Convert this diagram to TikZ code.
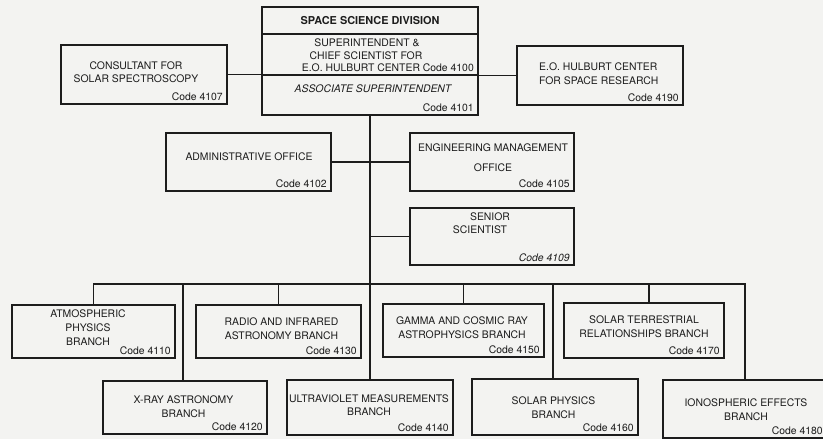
\documentclass[tikz,border=0pt]{standalone}
\usepackage{fontspec}
\setmainfont{TeX Gyre Heros}
\definecolor{bgc}{RGB}{243,243,241}
\definecolor{ink}{RGB}{28,28,28}
\tikzset{
  bx/.style={draw=ink, line width=1.9pt, inner sep=0pt},
  ln/.style={draw=ink, line width=1.9pt},
  lbl/.style={text=ink, font=\fontsize{10.4}{13.5}\selectfont, align=center, inner sep=0pt},
  codetxt/.style={text=ink, font=\fontsize{10.4}{12}\selectfont, inner xsep=5pt, inner ysep=4pt, anchor=south east},
}
\begin{document}
\begin{tikzpicture}[x=1pt,y=-1pt]
\clip (0,0) rectangle (823,439);
\fill[bgc] (0,0) rectangle (823,439);

% boxes
\node[bx, minimum width=216pt, minimum height=108pt] (main) at (370,61) {};
\node[bx, minimum width=166pt, minimum height=59pt] (consultant) at (144,74.5) {};
\node[bx, minimum width=166pt, minimum height=59pt] (hulburt) at (600,75.5) {};
\node[bx, minimum width=165pt, minimum height=58pt] (admin) at (248.5,162) {};
\node[bx, minimum width=164pt, minimum height=58pt] (eng) at (492,162) {};
\node[bx, minimum width=164pt, minimum height=57pt] (senior) at (492,236.5) {};
\node[bx, minimum width=163pt, minimum height=53pt] (atmos) at (93.5,331.5) {};
\node[bx, minimum width=165pt, minimum height=53pt] (radio) at (278.5,331.5) {};
\node[bx, minimum width=161pt, minimum height=53pt] (gamma) at (463.5,330.5) {};
\node[bx, minimum width=160pt, minimum height=55pt] (solarterr) at (644,330.5) {};
\node[bx, minimum width=164pt, minimum height=53pt] (xray) at (185,407.5) {};
\node[bx, minimum width=166pt, minimum height=55pt] (uv) at (370,407.5) {};
\node[bx, minimum width=166pt, minimum height=56pt] (solarphys) at (555,407) {};
\node[bx, minimum width=164pt, minimum height=58pt] (iono) at (745,409) {};

% separators in main box
\draw[ln] ([yshift=-28pt]main.north west) -- ([yshift=-28pt]main.north east);
\draw[ln] ([yshift=-69pt]main.north west) -- ([yshift=-69pt]main.north east);

% connectors
\draw[ln] (consultant.east) -- (consultant.east -| main.west);
\draw[ln] (hulburt.west) -- (hulburt.west -| main.east);
\draw[ln] (main.south) -- (uv.north);
\draw[ln] (admin.east) -- (eng.west);
\draw[ln] (senior.west) -- (senior.west -| main.south);
\coordinate (busR) at (745,284);
\draw[ln] (atmos.north) |- (busR) -- (iono.north);
\draw[ln] (radio.north) -- (radio.north |- busR);
\draw[ln] (gamma.north) -- (gamma.north |- busR);
\draw[ln] ([xshift=5pt]solarterr.north) -- ([xshift=5pt]solarterr.north |- busR);
\draw[ln] ([xshift=-2pt]xray.north) -- ([xshift=-2pt]xray.north |- busR);
\draw[ln] ([xshift=-2pt]solarphys.north) -- ([xshift=-2pt]solarphys.north |- busR);

% texts: main box
\node[lbl, font=\fontsize{10.9}{13}\selectfont\bfseries] (t0) at (370,21) {SPACE SCIENCE DIVISION};
\node[lbl] (t1) at (367,43) {SUPERINTENDENT \&};
\node[lbl] (t2) at (366,55.5) {CHIEF SCIENTIST FOR};
\node[lbl, anchor=east] (t3) at (474,68) {E.O. HULBURT CENTER Code 4100};
\node[lbl, font=\fontsize{10.4}{13.5}\selectfont\itshape] (t4) at (373,89) {ASSOCIATE SUPERINTENDENT};
\node[codetxt] (c4101) at (main.south east) {Code 4101};

\node[lbl] (t5) at (136,72) {CONSULTANT FOR\\SOLAR SPECTROSCOPY};
\node[codetxt] (c4107) at (consultant.south east) {Code 4107};

\node[lbl, align=left, anchor=west] (t6) at (539,73.5) {E.O. HULBURT CENTER\\FOR SPACE RESEARCH};
\node[codetxt] (c4190) at (hulburt.south east) {Code 4190};

\node[lbl] (t7) at (249,157) {ADMINISTRATIVE OFFICE};
\node[codetxt] (c4102) at (admin.south east) {Code 4102};

\node[lbl] (t8) at (493,157.5) {ENGINEERING MANAGEMENT\\[7pt]OFFICE};
\node[codetxt] (c4105) at (eng.south east) {Code 4105};

\node[lbl] (t9) at (490,217) {SENIOR};
\node[lbl] (t10) at (480,230) {SCIENTIST};
\node[codetxt, font=\fontsize{10.4}{12}\selectfont\itshape] (c4109) at (senior.south east) {Code 4109};

\node[lbl, font=\fontsize{10.4}{14}\selectfont] (t11) at (88,328) {ATMOSPHERIC\\PHYSICS\\BRANCH};
\node[codetxt] (c4110) at (atmos.south east) {Code 4110};

\node[lbl] (t12) at (281.5,328.5) {RADIO AND INFRARED\\ASTRONOMY BRANCH};
\node[codetxt] (c4130) at (radio.south east) {Code 4130};

\node[lbl] (t13) at (462,327.5) {GAMMA AND COSMIC RAY\\ASTROPHYSICS BRANCH};
\node[codetxt] (c4150) at (gamma.south east) {Code 4150};

\node[lbl] (t14) at (644,326.5) {SOLAR TERRESTRIAL\\RELATIONSHIPS BRANCH};
\node[codetxt] (c4170) at (solarterr.south east) {Code 4170};

\node[lbl] (t15) at (183.5,406.5) {X-RAY ASTRONOMY\\BRANCH};
\node[codetxt] (c4120) at (xray.south east) {Code 4120};

\node[lbl] (t16) at (369,405) {ULTRAVIOLET MEASUREMENTS\\BRANCH};
\node[codetxt] (c4140) at (uv.south east) {Code 4140};

\node[lbl] (t17) at (553.5,407.5) {SOLAR PHYSICS\\BRANCH};
\node[codetxt] (c4160) at (solarphys.south east) {Code 4160};

\node[lbl] (t18) at (746,409.5) {IONOSPHERIC EFFECTS\\BRANCH};
\node[codetxt] (c4180) at (iono.south east) {Code 4180};
\end{tikzpicture}
\end{document}
